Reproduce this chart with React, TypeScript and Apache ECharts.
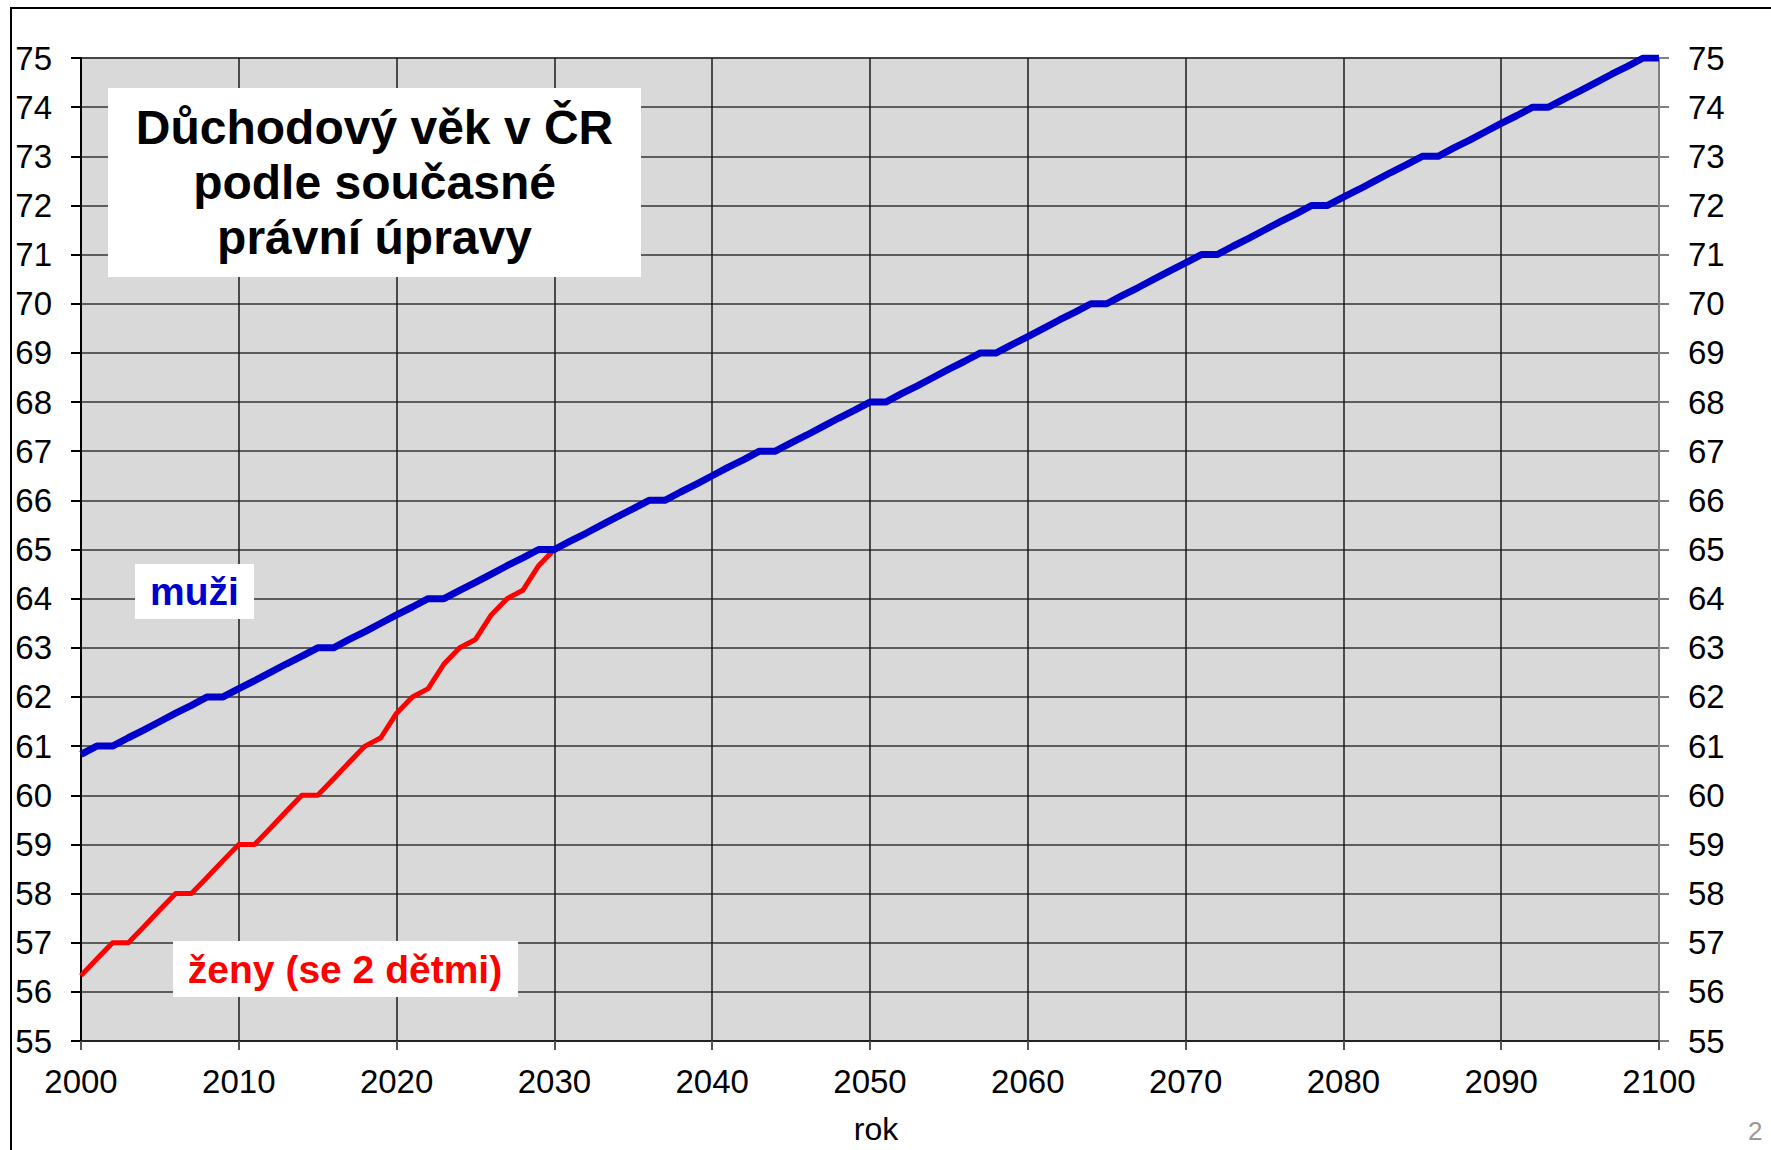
import React, { useEffect, useRef } from "react";
import * as echarts from "echarts";

const YEARS = [
  2000, 2001, 2002, 2003, 2004, 2005, 2006, 2007, 2008, 2009,
  2010, 2011, 2012, 2013, 2014, 2015, 2016, 2017, 2018, 2019,
  2020, 2021, 2022, 2023, 2024, 2025, 2026, 2027, 2028, 2029,
  2030, 2031, 2032, 2033, 2034, 2035, 2036, 2037, 2038, 2039,
  2040, 2041, 2042, 2043, 2044, 2045, 2046, 2047, 2048, 2049,
  2050, 2051, 2052, 2053, 2054, 2055, 2056, 2057, 2058, 2059,
  2060, 2061, 2062, 2063, 2064, 2065, 2066, 2067, 2068, 2069,
  2070, 2071, 2072, 2073, 2074, 2075, 2076, 2077, 2078, 2079,
  2080, 2081, 2082, 2083, 2084, 2085, 2086, 2087, 2088, 2089,
  2090, 2091, 2092, 2093, 2094, 2095, 2096, 2097, 2098, 2099,
  2100,
];

// muži – retirement age by year
const MEN = [
  60.83, 61, 61, 61.17, 61.33, 61.5, 61.67, 61.83, 62, 62,
  62.17, 62.33, 62.5, 62.67, 62.83, 63, 63, 63.17, 63.33, 63.5,
  63.67, 63.83, 64, 64, 64.17, 64.33, 64.5, 64.67, 64.83, 65,
  65, 65.17, 65.33, 65.5, 65.67, 65.83, 66, 66, 66.17, 66.33,
  66.5, 66.67, 66.83, 67, 67, 67.17, 67.33, 67.5, 67.67, 67.83,
  68, 68, 68.17, 68.33, 68.5, 68.67, 68.83, 69, 69, 69.17,
  69.33, 69.5, 69.67, 69.83, 70, 70, 70.17, 70.33, 70.5, 70.67,
  70.83, 71, 71, 71.17, 71.33, 71.5, 71.67, 71.83, 72, 72,
  72.17, 72.33, 72.5, 72.67, 72.83, 73, 73, 73.17, 73.33, 73.5,
  73.67, 73.83, 74, 74, 74.17, 74.33, 74.5, 74.67, 74.83, 75,
  75,
];

// ženy (se 2 dětmi) – 2000..2030
const WOMEN = [
  56.33, 56.67, 57, 57, 57.33, 57.67, 58, 58, 58.33, 58.67,
  59, 59, 59.33, 59.67, 60, 60, 60.33, 60.67, 61, 61.17,
  61.67, 62, 62.17, 62.67, 63, 63.17, 63.67, 64, 64.17, 64.67,
  65,
];

const X_MIN = 2000;
const X_MAX = 2100;
const X_STEP = 10;
const Y_MIN = 55;
const Y_MAX = 75;
const Y_STEP = 1;

const TITLE_LINES = ["Důchodový věk v ČR", "podle současné", "právní úpravy"];
const MEN_LABEL = "muži";
const WOMEN_LABEL = "ženy (se 2 dětmi)";
const X_NAME = "rok";
const PAGE_NO = "2";

const FONT = '"Liberation Sans", Arial, Helvetica, sans-serif';

export default function App() {
  const ref = useRef<HTMLDivElement>(null);

  useEffect(() => {
    document.body.style.margin = "0";
    const chart = echarts.init(ref.current!, null, { renderer: "svg" });
    const menData = YEARS.map((y, i) => [y, MEN[i]]);
    const womenData = WOMEN.map((v, i) => [YEARS[i], v]);

    chart.setOption({
      animation: false,
      backgroundColor: "#ffffff",
      textStyle: { fontFamily: FONT },
      grid: {
        left: 81,
        top: 58,
        width: 1578,
        height: 983,
        show: true,
        backgroundColor: "#d9d9d9",
        borderColor: "#808080",
        borderWidth: 2,
      },
      xAxis: {
        type: "value",
        min: X_MIN,
        max: X_MAX,
        interval: X_STEP,
        name: X_NAME,
        nameLocation: "middle",
        nameGap: 72,
        nameTextStyle: { fontSize: 32, color: "#000", fontFamily: FONT, padding: [0, 0, 0, 12] },
        axisLine: { show: true, onZero: false, lineStyle: { color: "#222", width: 2 } },
        axisTick: { show: true, length: 9, inside: false, lineStyle: { color: "#555", width: 2 } },
        axisLabel: {
          fontSize: 33,
          color: "#000",
          margin: 24,
          fontFamily: FONT,
          formatter: (v: number) => String(v),
        },
        splitLine: { show: true, lineStyle: { color: "#1a1a1a", width: 1.5 } },
      },
      yAxis: [
        {
          type: "value",
          position: "left",
          min: Y_MIN,
          max: Y_MAX,
          interval: Y_STEP,
          axisLine: { show: true, lineStyle: { color: "#000", width: 2 } },
          axisTick: { show: true, length: 10, lineStyle: { color: "#000", width: 2 } },
          axisLabel: { fontSize: 33, color: "#000", margin: 29, fontFamily: FONT },
          splitLine: { show: true, lineStyle: { color: "#333", width: 1.6 } },
        },
        {
          type: "value",
          position: "right",
          min: Y_MIN,
          max: Y_MAX,
          interval: Y_STEP,
          axisLine: { show: true, lineStyle: { color: "#808080", width: 2 } },
          axisTick: { show: true, length: 10, lineStyle: { color: "#808080", width: 2 } },
          axisLabel: { fontSize: 33, color: "#000", margin: 29, fontFamily: FONT },
          splitLine: { show: false },
        },
      ],
      series: [
        {
          name: WOMEN_LABEL,
          type: "line",
          data: womenData,
          showSymbol: false,
          symbol: "none",
          lineStyle: { color: "#ff0000", width: 5, join: "round" },
          z: 3,
        },
        {
          name: MEN_LABEL,
          type: "line",
          data: menData,
          showSymbol: false,
          symbol: "none",
          lineStyle: { color: "#0000cc", width: 7, join: "round" },
          z: 4,
        },
      ],
      graphic: [
        {
          type: "rect",
          z: 100,
          shape: { x: 11, y: 8, width: 1800, height: 1200 },
          style: { fill: "none", stroke: "#000", lineWidth: 2 },
          silent: true,
        },
        {
          type: "rect",
          z: 100,
          shape: { x: 108, y: 88, width: 533, height: 189 },
          style: { fill: "#ffffff" },
        },
        {
          type: "text",
          z: 101,
          x: 374.5,
          y: 182.5,
          style: {
            text: TITLE_LINES.join("\n"),
            font: `bold 48px ${FONT}`,
            fill: "#000",
            align: "center",
            verticalAlign: "middle",
            lineHeight: 55,
          },
        },
        {
          type: "rect",
          z: 100,
          shape: { x: 135, y: 564, width: 119, height: 55 },
          style: { fill: "#ffffff" },
        },
        {
          type: "text",
          z: 101,
          x: 194.5,
          y: 591.5,
          style: {
            text: MEN_LABEL,
            font: `bold 39px ${FONT}`,
            fill: "#0000cc",
            align: "center",
            verticalAlign: "middle",
          },
        },
        {
          type: "rect",
          z: 100,
          shape: { x: 173, y: 941, width: 345, height: 56 },
          style: { fill: "#ffffff" },
        },
        {
          type: "text",
          z: 101,
          x: 345,
          y: 969,
          style: {
            text: WOMEN_LABEL,
            font: `bold 39px ${FONT}`,
            fill: "#ff0000",
            align: "center",
            verticalAlign: "middle",
          },
        },
        {
          type: "text",
          z: 101,
          x: 1748,
          y: 1118,
          style: {
            text: PAGE_NO,
            font: `26px ${FONT}`,
            fill: "#999999",
            align: "left",
            verticalAlign: "top",
          },
        },
      ],
    });

    return () => chart.dispose();
  }, []);

  return (
    <div
      ref={ref}
      style={{ position: "absolute", left: 0, top: 0, width: 1771, height: 1150 }}
    />
  );
}
